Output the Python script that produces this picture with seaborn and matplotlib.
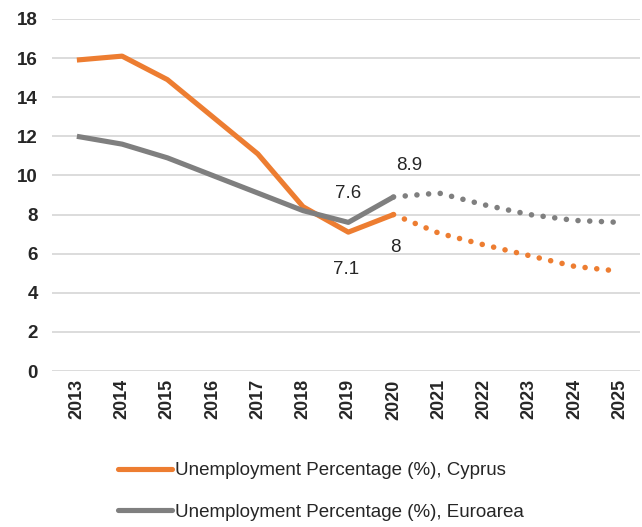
import numpy as np
import pandas as pd
import matplotlib
matplotlib.use("Agg")
import matplotlib.pyplot as plt
import seaborn as sns
from matplotlib.lines import Line2D

sns.set_style("white")
plt.rcParams['font.family'] = ['Liberation Sans Narrow', 'Liberation Sans', 'DejaVu Sans']

# actual values
years_actual = [2013, 2014, 2015, 2016, 2017, 2018, 2019, 2020]
cyprus_actual = [15.9, 16.1, 14.9, 13.0, 11.1, 8.4, 7.1, 8.0]
euro_actual = [12.0, 11.6, 10.9, 10.0, 9.1, 8.2, 7.6, 8.9]

# forecast values
years_fc = [2020, 2021, 2022, 2023, 2024, 2025]
cyprus_fc = [8.0, 7.05, 6.45, 5.9, 5.35, 5.1]
euro_fc = [8.9, 9.1, 8.5, 8.0, 7.7, 7.6]

all_years = list(range(2013, 2026))

orange = "#ED7D31"
grey = "#7F7F7F"

act = pd.DataFrame({"year": years_actual, "Cyprus": cyprus_actual, "Euro": euro_actual})
fc = pd.DataFrame({"year": years_fc, "Cyprus": cyprus_fc, "Euro": euro_fc})

fig = plt.figure(figsize=(6.42, 5.27), dpi=100)
ax = fig.add_axes([0.081, 0.296, 0.916, 0.668])

sns.lineplot(data=act, x="year", y="Cyprus", color=orange, lw=3.7, ax=ax,
             solid_capstyle="butt")
sns.lineplot(data=act, x="year", y="Euro", color=grey, lw=3.7, ax=ax,
             solid_capstyle="butt")
sns.lineplot(data=fc, x="year", y="Cyprus", color=orange, lw=4, ax=ax,
             linestyle=(0, (0.01, 2.1)), dash_capstyle="round")
sns.lineplot(data=fc, x="year", y="Euro", color=grey, lw=4, ax=ax,
             linestyle=(0, (0.01, 2.1)), dash_capstyle="round")

ax.set_xlim(2012.45, 2025.45)
ax.set_ylim(0, 18)
ax.set_yticks(range(0, 19, 2))
ax.set_xticks(all_years)
ax.set_xticklabels([str(y) for y in all_years], rotation=90, fontsize=13, fontweight="bold")
ax.set_yticklabels([str(v) for v in range(0, 19, 2)], fontsize=13.5, fontweight="bold")
ax.tick_params(axis="x", length=0, pad=6)
ax.tick_params(axis="y", length=0, pad=10)
ax.set_xlabel("")
ax.set_ylabel("")
ax.grid(axis="y", color="#d9d9d9", lw=1.3)
ax.set_axisbelow(True)
for s in ax.spines.values():
    s.set_visible(False)

# data labels
ax.annotate("8.9", (2020, 8.9), xytext=(2020.35, 10.5), textcoords="data",
            ha="center", va="center", fontsize=13.5)
ax.annotate("7.6", (2019, 7.6), xytext=(2019.0, 9.1), textcoords="data",
            ha="center", va="center", fontsize=13.5)
ax.annotate("7.1", (2019, 7.1), xytext=(2018.95, 5.2), textcoords="data",
            ha="center", va="center", fontsize=13.5)
ax.annotate("8", (2020, 8.0), xytext=(2020.05, 6.3), textcoords="data",
            ha="center", va="center", fontsize=13.5)

handles = [Line2D([0], [0], color=orange, lw=3.7),
           Line2D([0], [0], color=grey, lw=3.7)]
labels = ["Unemployment Percentage (%), Cyprus",
          "Unemployment Percentage (%), Euroarea"]
fig.legend(handles, labels, loc="upper left", bbox_to_anchor=(0.172, 0.137),
           frameon=False, fontsize=13.5, handlelength=2.9, handletextpad=0.15,
           labelspacing=1.3, borderaxespad=0)

fig.savefig("out.png", dpi=100)
